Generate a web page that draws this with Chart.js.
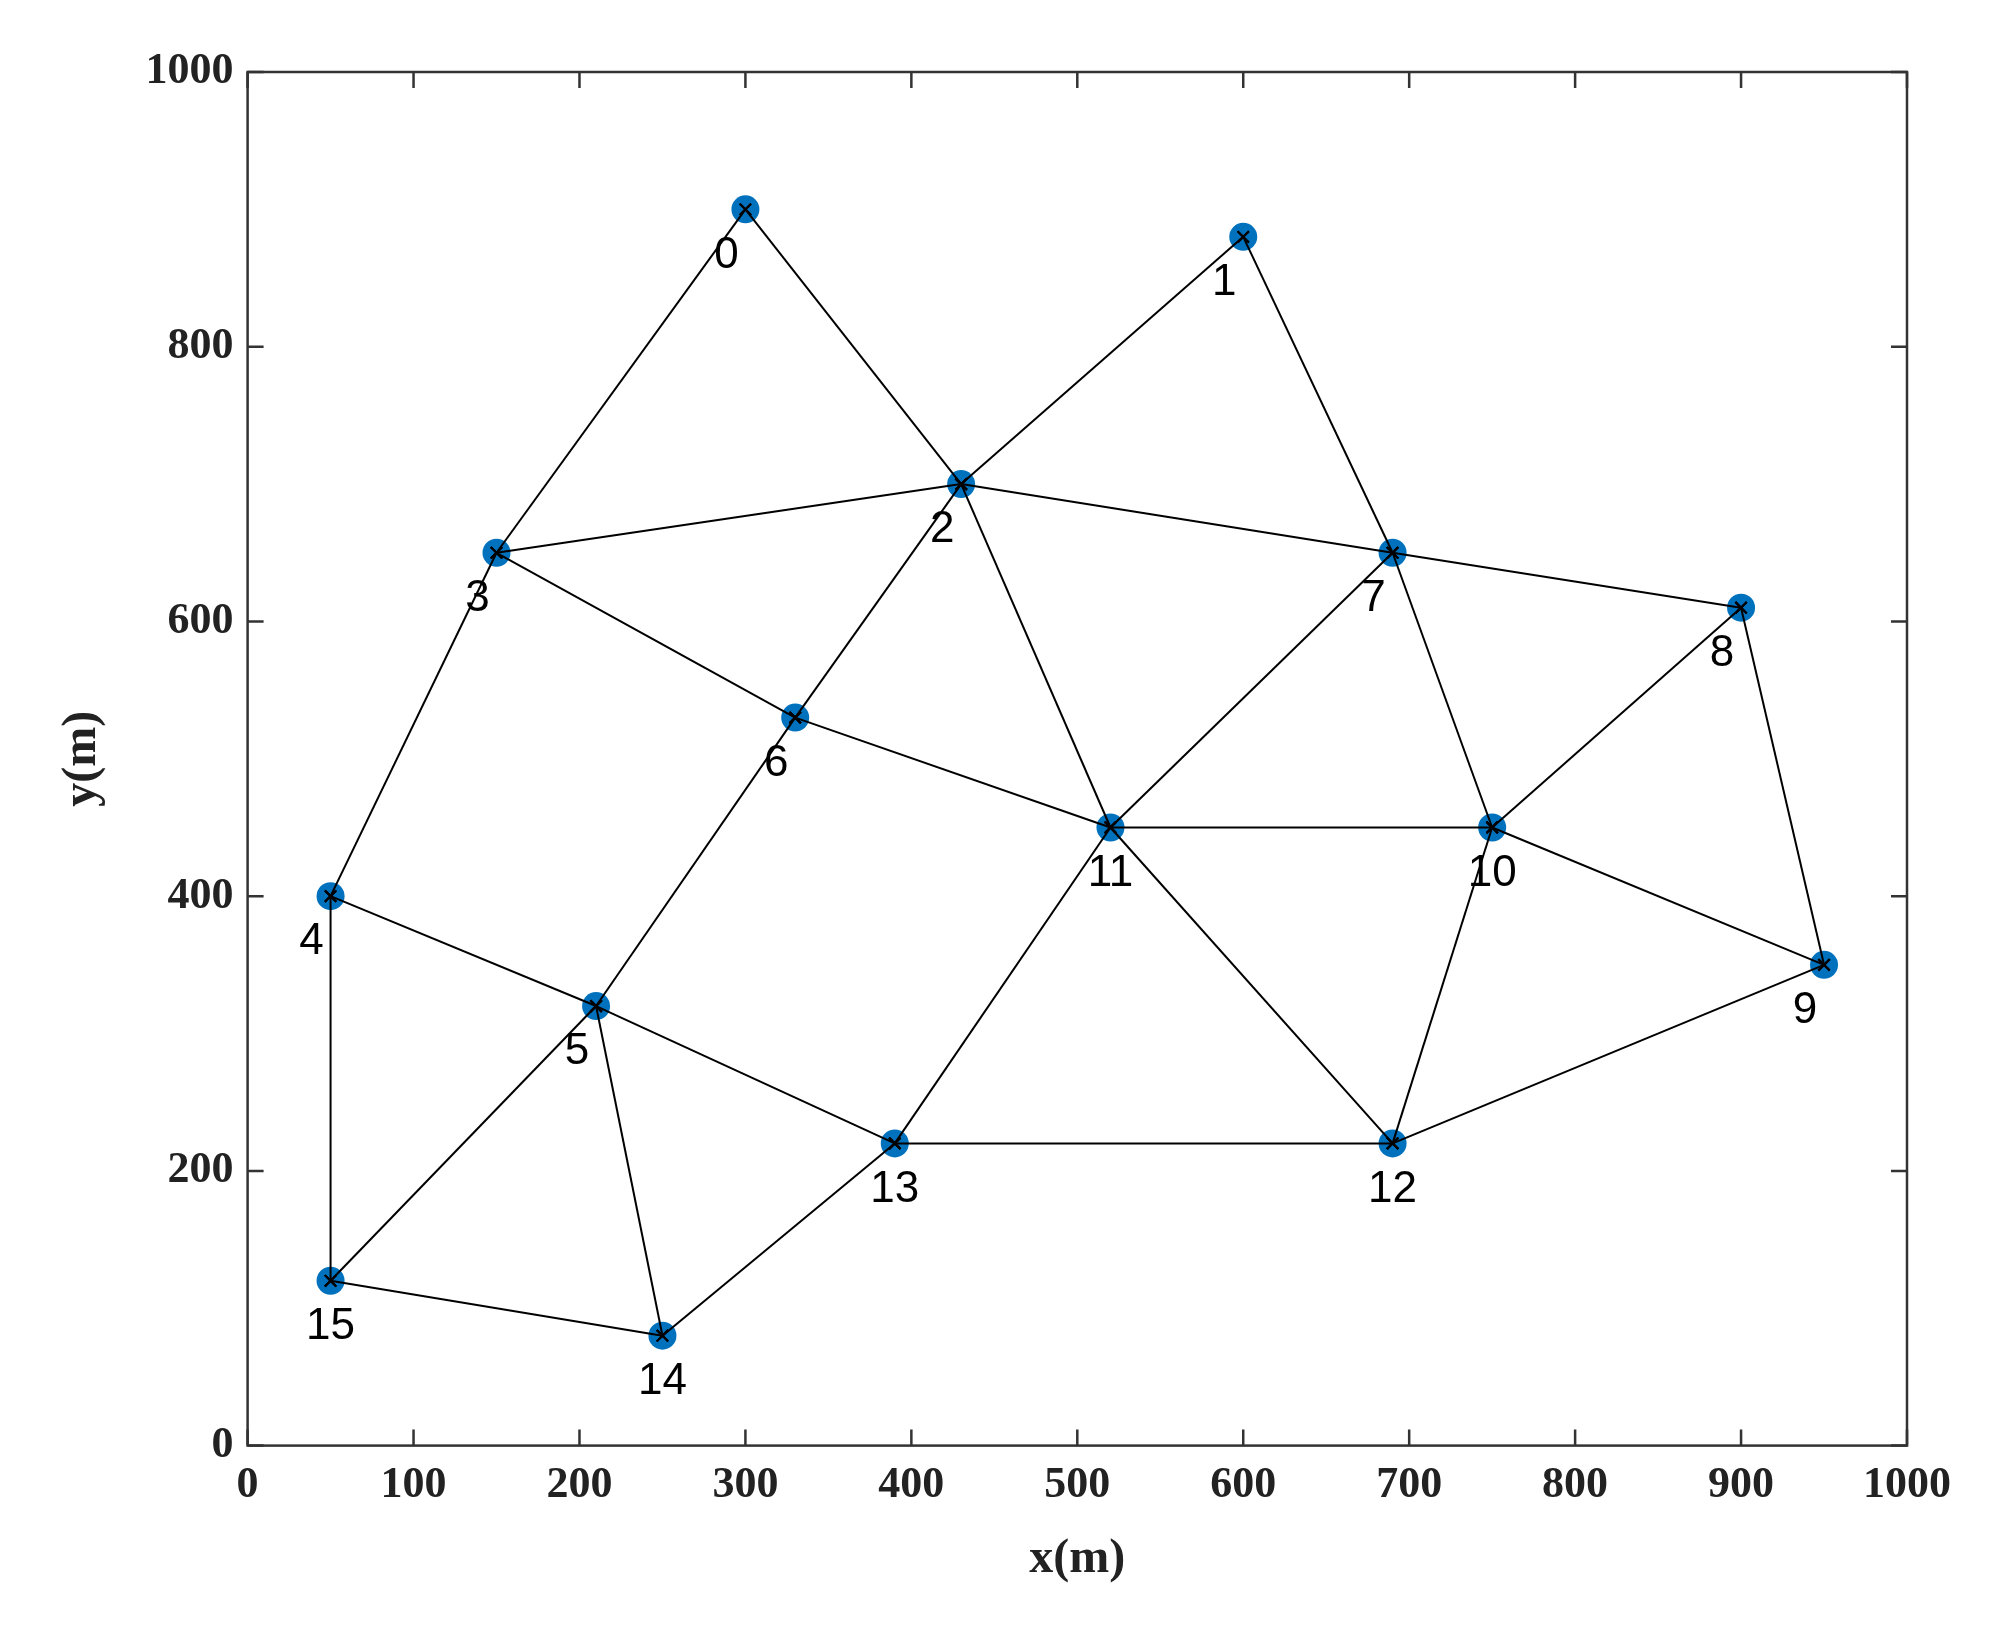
<!DOCTYPE html>
<html>
<head>
<meta charset="utf-8">
<script src="https://cdn.jsdelivr.net/npm/chart.js@4"></script>
<style>
  html, body { margin: 0; padding: 0; background: #fff; }
  #wrap { width: 2012px; height: 1632px; }
</style>
</head>
<body>
<div id="wrap"><canvas id="net"></canvas></div>
<script>
// node coordinates (m)
const nodeX = [300, 600, 430, 150, 50, 210, 330, 690, 900, 950, 750, 520, 690, 390, 250, 50];
const nodeY = [900, 880, 700, 650, 400, 320, 530, 650, 610, 350, 450, 450, 220, 220, 80, 120];
// links between nodes
const edges = [
  [0, 3], [0, 2], [1, 2], [1, 7], [2, 3], [2, 7], [2, 6], [2, 11],
  [3, 6], [3, 4], [6, 11], [6, 5], [7, 8], [7, 11], [7, 10], [8, 10],
  [8, 9], [10, 11], [10, 9], [10, 12], [11, 12], [11, 13], [9, 12],
  [12, 13], [4, 5], [4, 15], [5, 13], [5, 15], [5, 14], [13, 14], [14, 15],
];
const xTickVals = [0, 100, 200, 300, 400, 500, 600, 700, 800, 900, 1000];
const yTickVals = [0, 200, 400, 600, 800, 1000];

const points = nodeX.map((x, i) => ({ x: x, y: nodeY[i] }));

const datasets = [{
  data: points,
  showLine: false,
  pointRadius: 14,
  pointBackgroundColor: "#0072BD",
  pointBorderWidth: 0,
  order: 2,
}];
edges.forEach(([a, b]) => {
  datasets.push({
    data: [points[a], points[b]],
    showLine: true,
    borderColor: "#000",
    borderWidth: 2,
    pointStyle: "crossRot",
    pointRadius: 8,
    pointBorderColor: "#000",
    pointBorderWidth: 2,
    order: 1,
  });
});

// node numbers, below left of each dot
const nodeLabels = {
  id: "nodeLabels",
  afterDatasetsDraw(chart) {
    const c = chart.ctx, xs = chart.scales.x, ys = chart.scales.y;
    c.save();
    c.font = "44px 'Liberation Sans', Arial, sans-serif";
    c.fillStyle = "#000";
    c.textAlign = "center";
    c.textBaseline = "middle";
    points.forEach((p, i) => {
      const dx = i < 10 ? -19 : 0;
      c.fillText(String(i), xs.getPixelForValue(p.x) + dx, ys.getPixelForValue(p.y) + 46);
    });
    c.restore();
  },
};

// box around the plot with inner ticks on all sides
const frame = {
  id: "frame",
  afterDraw(chart) {
    const c = chart.ctx, a = chart.chartArea, xs = chart.scales.x, ys = chart.scales.y;
    c.save();
    c.strokeStyle = "#333";
    c.lineWidth = 2.5;
    c.strokeRect(a.left, a.top, a.right - a.left, a.bottom - a.top);
    c.beginPath();
    xTickVals.forEach((v) => {
      const px = xs.getPixelForValue(v);
      c.moveTo(px, a.bottom); c.lineTo(px, a.bottom - 16);
      c.moveTo(px, a.top); c.lineTo(px, a.top + 16);
    });
    yTickVals.forEach((v) => {
      const py = ys.getPixelForValue(v);
      c.moveTo(a.left, py); c.lineTo(a.left + 16, py);
      c.moveTo(a.right, py); c.lineTo(a.right - 16, py);
    });
    c.stroke();
    c.restore();
  },
};

const tickFont = { family: "'Liberation Serif', 'Times New Roman', serif", size: 44, weight: "bold" };

new Chart(document.getElementById("net"), {
  type: "scatter",
  data: { datasets: datasets },
  options: {
    responsive: true,
    maintainAspectRatio: false,
    animation: false,
    layout: { padding: { left: 50, right: 105, top: 72, bottom: 40 } },
    plugins: { legend: { display: false }, tooltip: { enabled: false } },
    scales: {
      x: {
        min: 0, max: 1000,
        afterBuildTicks: (s) => { s.ticks = xTickVals.map((v) => ({ value: v })); },
        grid: { display: false, drawTicks: false },
        border: { display: false },
        ticks: { color: "#222", font: tickFont, padding: 14, callback: (v) => String(v) },
        title: { display: true, text: "x(m)", color: "#222", font: { ...tickFont, size: 48 }, padding: { top: 4 } },
      },
      y: {
        min: 0, max: 1000,
        afterBuildTicks: (s) => { s.ticks = yTickVals.map((v) => ({ value: v })); },
        grid: { display: false, drawTicks: false },
        border: { display: false },
        ticks: { color: "#222", font: tickFont, padding: 14, callback: (v) => String(v) },
        title: { display: true, text: "y(m)", color: "#222", font: { ...tickFont, size: 48 }, padding: { bottom: 20 } },
      },
    },
  },
  plugins: [nodeLabels, frame],
});
</script>
</body>
</html>
